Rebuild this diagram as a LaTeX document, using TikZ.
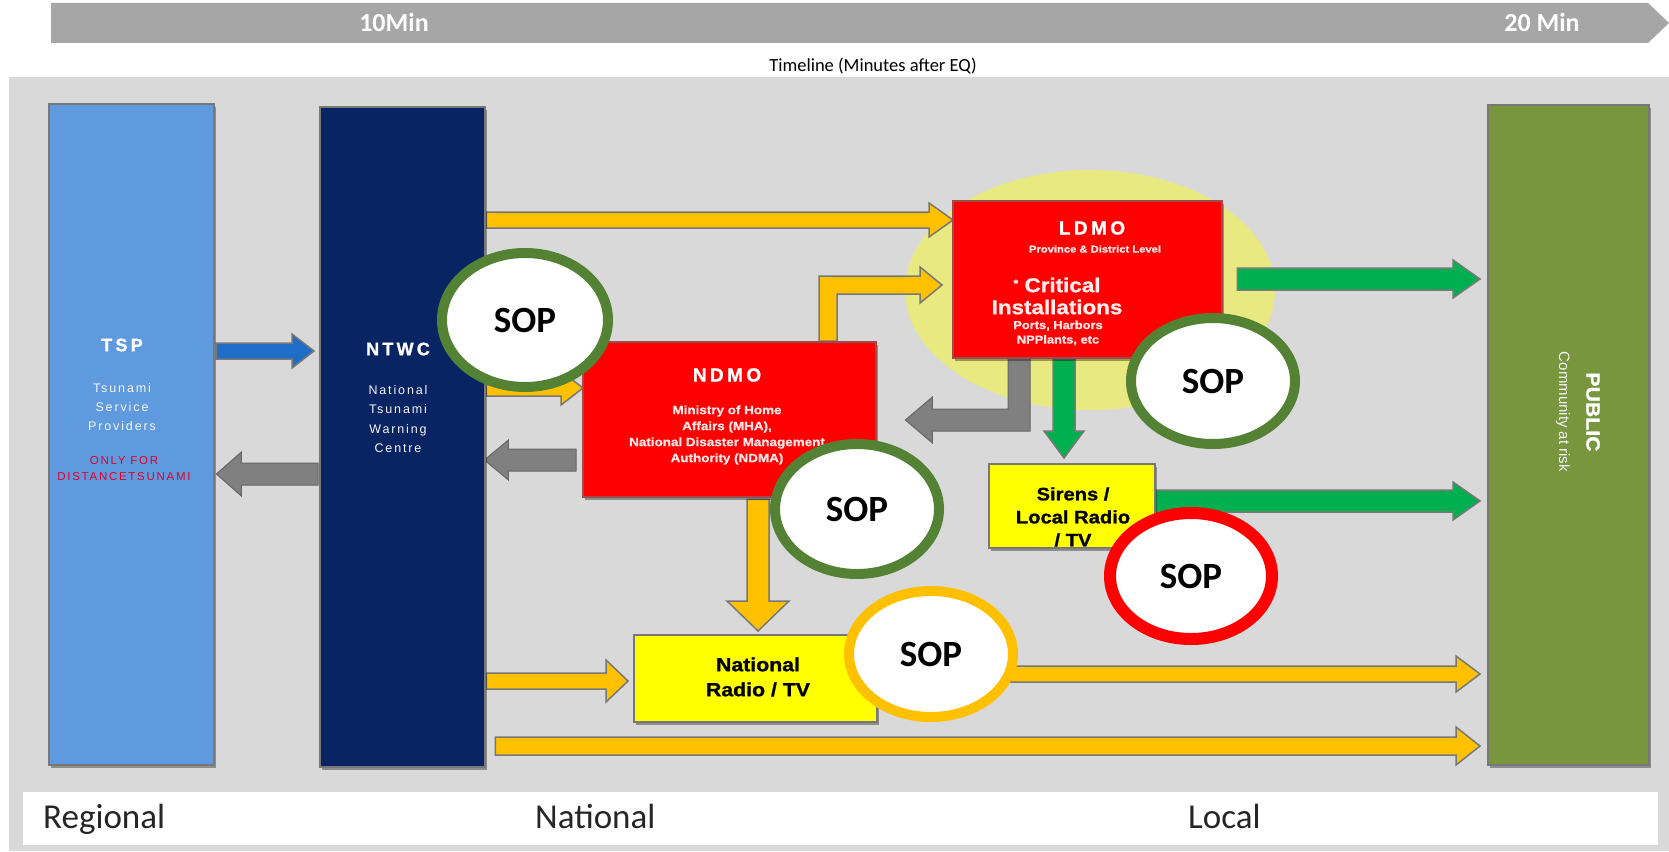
\documentclass[tikz,border=0pt]{standalone}
\usepackage{fontspec}
\setmainfont{Carlito}
\newfontfamily\arb[FakeStretch=1.12,FakeBold=1.2]{Liberation Sans}
\newfontfamily\arw[LetterSpace=15]{Liberation Sans}
\newfontfamily\arwb[LetterSpace=18,FakeBold=1.2]{Liberation Sans}
\newfontfamily\arn{Liberation Sans}
\usetikzlibrary{calc,shapes.geometric,shadows}
\definecolor{panel}{RGB}{217,217,217}
\definecolor{tline}{RGB}{166,166,166}
\definecolor{tspblue}{RGB}{96,154,222}
\definecolor{navy}{RGB}{8,36,99}
\definecolor{olive}{RGB}{120,150,62}
\definecolor{boxred}{RGB}{255,0,0}
\definecolor{boxyel}{RGB}{255,255,0}
\definecolor{arryel}{RGB}{255,192,0}
\definecolor{arrgrn}{RGB}{0,176,80}
\definecolor{arrblu}{RGB}{30,110,200}
\definecolor{arrgry}{RGB}{128,128,128}
\definecolor{sopgrn}{RGB}{84,130,53}
\definecolor{glowyel}{RGB}{232,233,128}
\definecolor{outl}{RGB}{120,120,120}
\definecolor{redtxt}{RGB}{225,0,40}
\newcommand\fs[1]{\fontsize{#1}{#1}\selectfont}
% block arrow: style, from, to, shaft half width, head half width, head length
\newcommand\blockarrow[6]{%
  \coordinate (ba-b) at ($(#3)!#6pt!(#2)$);
  \draw[#1] ($(#2)!#4pt!90:(#3)$) -- ($(ba-b)!#4pt!-90:(#2)$) -- ($(ba-b)!#5pt!-90:(#2)$)
    -- (#3) -- ($(ba-b)!#5pt!90:(#2)$) -- ($(ba-b)!#4pt!90:(#2)$) -- ($(#2)!#4pt!-90:(#3)$) -- cycle;}
\begin{document}
\begin{tikzpicture}[x=1pt,y=-1pt,
  box/.style={draw=outl, line width=1.5pt, inner sep=0pt, anchor=north west,
    drop shadow={shadow xshift=2pt,shadow yshift=-3pt,opacity=0.35,fill=black}},
  sop/.style={ellipse, draw=sopgrn, line width=10pt, fill=white, inner sep=0pt,
    font=\bfseries\fs{37}, text=black},
  yarr/.style={fill=arryel, draw=outl, line width=1.5pt, line join=miter},
  garr/.style={fill=arrgrn, draw=outl, line width=1.5pt},
  gyarr/.style={fill=arrgry, draw=arrgry!80!black, line width=1pt},
  barr/.style={fill=arrblu, draw=outl, line width=1.5pt},
  wtxt/.style={text=white, align=center, inner sep=0pt},
  btxt/.style={text=black, align=center, inner sep=0pt},
  lvl/.style={anchor=base west, inner sep=0pt, text=black!85, font=\fs{35}}]
\useasboundingbox (0,0) rectangle (1669,851);
\fill[white] (0,0) rectangle (1669,851);
% timeline
\fill[tline] (51,3) -- (1648,3) -- (1669,23) -- (1648,43) -- (51,43) -- cycle;
\node[wtxt, font=\bfseries\fs{26}] (t10) at (394,22) {10Min};
\node[wtxt, font=\bfseries\fs{26}] (t20) at (1542,22) {20 Min};
\node[btxt, font=\fs{18.5}] (tl) at (873,66) {Timeline (Minutes after EQ)};
% panel
\fill[panel] (9,77) rectangle (1669,851);
\fill[white] (23,792) rectangle (1658,845);
\node[lvl] (reg) at (43,828) {Regional};
\node[lvl] (nat) at (535,828) {National};
\node[lvl] (loc) at (1188,828) {Local};
% glow
\node[ellipse, fill=glowyel, minimum width=370pt, minimum height=240pt, inner sep=0pt] (glow) at (1090,290) {};
% box positions
\path (48,103) coordinate (tspnw) (319,106) coordinate (ntwcnw) (1487,104) coordinate (pubnw)
      (582,341) coordinate (ndmonw) (952,200) coordinate (ldmonw) (988,463) coordinate (sirnw)
      (633,634) coordinate (nrnw);
\path (tspnw) node[anchor=north west, minimum width=165pt, minimum height=661pt, inner sep=0pt] (tsp) {};
\path (ntwcnw) node[anchor=north west, minimum width=165pt, minimum height=660pt, inner sep=0pt] (ntwc) {};
\path (pubnw) node[anchor=north west, minimum width=161pt, minimum height=660pt, inner sep=0pt] (public) {};
\path (ndmonw) node[anchor=north west, minimum width=293pt, minimum height=155pt, inner sep=0pt] (ndmo) {};
\path (ldmonw) node[anchor=north west, minimum width=269pt, minimum height=157pt, inner sep=0pt] (ldmo) {};
\path (sirnw) node[anchor=north west, minimum width=166pt, minimum height=84pt, inner sep=0pt] (sirens) {};
\path (nrnw) node[anchor=north west, minimum width=243pt, minimum height=87pt, inner sep=0pt] (natradio) {};
% arrow end points
\coordinate (a1s) at ($(tsp.east |- 0,351)+(3,0)$);
\coordinate (a1e) at ($(ntwc.west |- 0,351)+(-5,0)$);
\coordinate (a2s) at ($(ntwc.west |- 0,474)+(-1,0)$);
\coordinate (a2e) at ($(tsp.east |- 0,474)+(3,0)$);
\coordinate (a3s) at ($(ntwc.east |- 0,220)+(2,0)$);
\coordinate (a3e) at ($(ldmo.west |- 0,220)+(1,0)$);
\coordinate (a4s) at ($(ntwc.east |- 0,388)+(2,0)$);
\coordinate (a4e) at ($(ndmo.west |- 0,388)+(1,0)$);
\coordinate (a5s) at ($(ndmo.west |- 0,460)+(-6,0)$);
\coordinate (a5e) at ($(ntwc.east |- 0,460)+(0,0)$);
\coordinate (a6s) at ($(ldmo.south -| 1064,0)+(0,2)$);
\coordinate (a6e) at ($(sirens.north -| 1064,0)+(0,-5)$);
\coordinate (a7s) at ($(ldmo.east |- 0,279)+(16,0)$);
\coordinate (a7e) at ($(public.west |- 0,279)+(-7,0)$);
\coordinate (a8s) at ($(sirens.east |- 0,501)+(1,0)$);
\coordinate (a8e) at ($(public.west |- 0,501)+(-7,0)$);
\coordinate (a9s) at ($(ndmo.south -| 758,0)+(0,3)$);
\coordinate (a9e) at ($(natradio.north -| 758,0)+(0,-3)$);
\coordinate (a10s) at ($(ntwc.east |- 0,681)+(2,0)$);
\coordinate (a10e) at ($(natradio.west |- 0,681)+(-5,0)$);
\coordinate (a11s) at ($(natradio.east |- 0,674)+(1,0)$);
\coordinate (a11e) at ($(public.west |- 0,674)+(-7,0)$);
\coordinate (a12s) at ($(ntwc.east |- 0,746)+(11,0)$);
\coordinate (a12e) at ($(public.west |- 0,746)+(-7,0)$);
\coordinate (b1s) at ($(ndmo.north -| 828,0)$);
\coordinate (b1e) at ($(ldmo.west |- 0,285)+(-10,0)$);
\coordinate (b2s) at ($(ldmo.south -| 1019,0)$);
\coordinate (b2e) at ($(ndmo.east |- 0,420)+(30,0)$);
% arrows
\blockarrow{barr}{a1s}{a1e}{8}{17}{22}
\blockarrow{gyarr}{a2s}{a2e}{11}{22}{25}
\blockarrow{yarr}{a3s}{a3e}{8}{17}{24}
\blockarrow{yarr}{a4s}{a4e}{8}{17}{22}
\blockarrow{gyarr}{a5s}{a5e}{11}{20}{24}
\blockarrow{garr}{a6s}{a6e}{11}{20}{27}
\blockarrow{garr}{a7s}{a7e}{11}{19}{27}
\blockarrow{garr}{a8s}{a8e}{11}{19}{27}
\blockarrow{yarr}{a9s}{a9e}{11}{31}{30}
\blockarrow{yarr}{a10s}{a10e}{8}{21}{22}
\blockarrow{yarr}{a11s}{a11e}{8}{18}{24}
\blockarrow{yarr}{a12s}{a12e}{9}{19}{24}
\draw[yarr] ($(b1s)+(-9,0)$) -- ($(b1s|-b1e)+(-9,-9)$) -- ($(b1e)+(-22,-9)$) -- ($(b1e)+(-22,-18)$)
  -- (b1e) -- ($(b1e)+(-22,18)$) -- ($(b1e)+(-22,9)$) -- ($(b1s|-b1e)+(9,9)$) -- ($(b1s)+(9,0)$) -- cycle;
\draw[gyarr] ($(b2s)+(-11,0)$) -- ($(b2s|-b2e)+(-11,-11)$) -- ($(b2e)+(27,-11)$) -- ($(b2e)+(27,-23)$)
  -- (b2e) -- ($(b2e)+(27,23)$) -- ($(b2e)+(27,11)$) -- ($(b2s|-b2e)+(11,11)$) -- ($(b2s)+(11,0)$) -- cycle;
% boxes drawn
\path (tspnw) node[box, fill=tspblue, minimum width=165pt, minimum height=661pt] {};
\path (ntwcnw) node[box, fill=navy, minimum width=165pt, minimum height=660pt] {};
\path (pubnw) node[box, fill=olive, minimum width=161pt, minimum height=660pt] {};
\path (ndmonw) node[box, fill=boxred, draw=red!45!black!70, minimum width=293pt, minimum height=155pt] {};
\path (ldmonw) node[box, fill=boxred, draw=red!45!black!70, minimum width=269pt, minimum height=157pt] {};
\path (sirnw) node[box, fill=boxyel, minimum width=166pt, minimum height=84pt] {};
\path (nrnw) node[box, fill=boxyel, minimum width=243pt, minimum height=87pt] {};
% texts
\node[wtxt, font=\arwb\bfseries\fs{18}] (tspt) at (122,345) {TSP};
\node[wtxt, font=\arw\fs{12.5}, text=white!92!gray] (tsps) at (122,407) {Tsunami\\[6.5pt]Service\\[6.5pt]Providers};
\node[wtxt, font=\arw\fs{11.5}, text=redtxt] (tspr) at (124,469) {ONLY FOR\\[4.5pt]DISTANCETSUNAMI};
\node[wtxt, font=\arwb\bfseries\fs{18}] (ntwct) at (398,349) {NTWC};
\node[wtxt, font=\arw\fs{12.5}, text=white!92!gray] (ntwcs) at (398,419) {National\\[7pt]Tsunami\\[7pt]Warning\\[7pt]Centre};
\node[wtxt, font=\arwb\bfseries\fs{19}] (ndmot) at (727,375) {NDMO};
\node[wtxt, font=\arb\bfseries\fs{12}, text=white!90!red] (ndmos) at (727,435) {Ministry of Home\\[4pt]Affairs (MHA),\\[4pt]National Disaster Management\\[4pt]Authority (NDMA)};
\node[wtxt, font=\arwb\bfseries\fs{19}] (ldmot) at (1092,228) {LDMO};
\node[wtxt, font=\arb\bfseries\fs{10}, text=white!90!red] (ldmop) at (1095,249) {Province \& District Level};
\node[wtxt, font=\arb\bfseries\fs{20}, text=white!92!red] (ldmoc) at (1057,296) {\raisebox{5pt}{\fs{11}*}~Critical\\[2pt]Installations};
\node[wtxt, font=\arb\bfseries\fs{11.5}, text=white!90!red] (ldmon) at (1058,333) {Ports, Harbors\\[3pt]NPPlants, etc};
\node[btxt, font=\arb\bfseries\fs{18}] (sirt) at (1073,517) {Sirens /\\[5pt]Local Radio\\[5pt]/ TV};
\node[btxt, font=\arb\bfseries\fs{19}] (nrt) at (758,677) {National\\[6pt]Radio / TV};
\node[wtxt, font=\arb\bfseries\fs{19}, rotate=-90] (pubt) at (1593,412) {PUBLIC};
\node[wtxt, font=\arn\fs{15}, rotate=-90, text=white!92!gray] (pubs) at (1563,412) {Community at risk};
% SOP ellipses
\node[sop, minimum width=166pt, minimum height=134pt] (sop1) at (525,320) {SOP};
\node[sop, minimum width=164pt, minimum height=130pt] (sop2) at (857,509) {SOP};
\node[sop, minimum width=164pt, minimum height=126pt] (sop3) at (1213,381) {SOP};
\node[sop, draw=red, line width=12pt, minimum width=162pt, minimum height=126pt] (sop4) at (1191,576) {SOP};
\node[sop, draw=arryel, minimum width=164pt, minimum height=126pt] (sop5) at (931,654) {SOP};
\end{tikzpicture}
\end{document}
